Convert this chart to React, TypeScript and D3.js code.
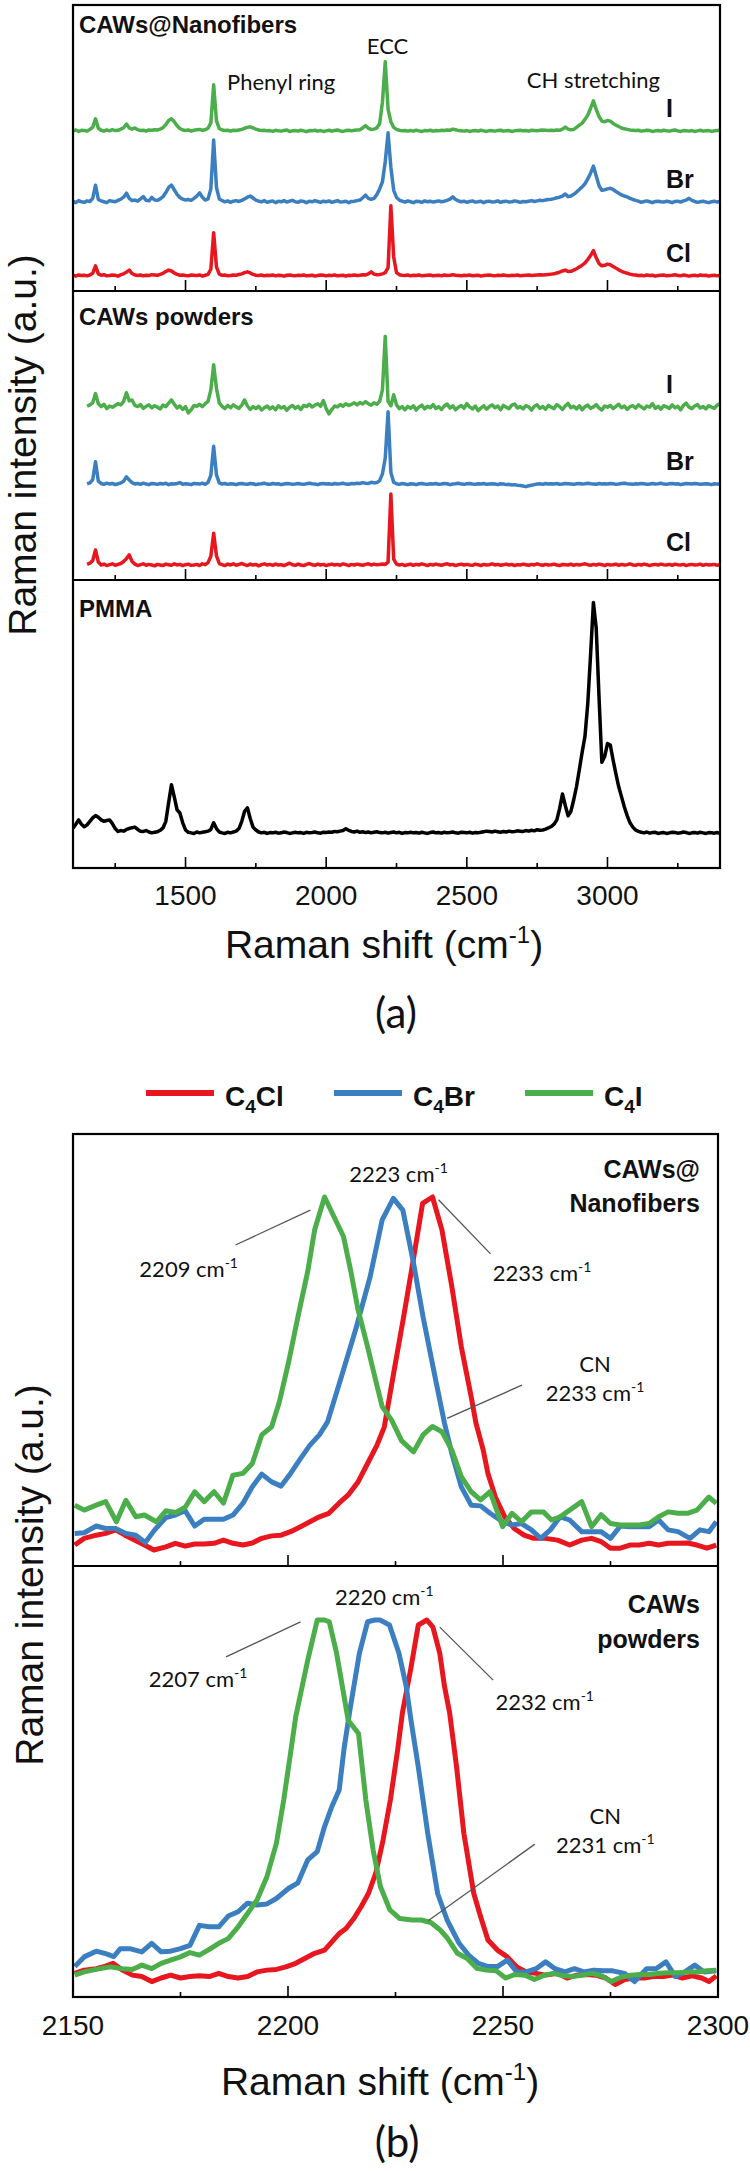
import React from "react";
import * as d3 from "d3";

const WIDTH = 750;
const HEIGHT = 2171;

// ---------- (a) survey spectra on a 10 cm-1 grid (intensity above each trace's own baseline) ----------
const SURVEY_START = 1100;
const POWDER_START = 1150;
const SURVEY_STEP = 10;

const fiberCl = [
  0.1, -0.2, 0.2, 0.0, 0.1, -0.1, 0.2, 0.8, 3.4, 0.6,
  0.1, 0.3, -0.1, 0.0, 0.2, 0.1, -0.2, 0.3, 0.6, 1.2,
  1.9, 0.7, 0.2, 0.0, 0.2, -0.1, 0.1, 0.0, 0.3, 0.2,
  0.1, 0.4, 0.8, 1.4, 1.9, 1.6, 0.9, 0.4, 0.1, 0.2,
  0.0, -0.1, 0.2, 0.1, 0.0, 0.2, -0.2, 0.1, 0.4, 2.2,
  15.0, 3.0, 0.5, 0.1, 0.2, -0.1, 0.0, 0.2, 0.1, 0.4,
  0.6, 1.0, 1.3, 0.9, 0.4, 0.1, 0.0, 0.2, -0.1, 0.1,
  0.0, 0.2, -0.1, 0.1, 0.0, -0.2, 0.1, 0.2, 0.0, -0.1,
  0.1, 0.0, 0.2, -0.1, 0.0, 0.1, -0.2, 0.0, 0.2, 0.1,
  -0.1, 0.1, 0.0, 0.2, -0.1, 0.0, 0.1, -0.2, 0.1, 0.0,
  0.2, 0.0, 0.1, 0.3, 0.2, 0.6, 1.3, 0.5, 0.3, 0.4,
  0.6, 1.0, 2.8, 24.4, 6.5, 1.0, 0.3, 0.1, 0.0, 0.2,
  -0.1, 0.1, 0.0, 0.2, -0.1, 0.0, 0.1, 0.2, -0.1, 0.0,
  0.1, -0.1, 0.2, 0.0, 0.1, 0.3, 0.1, 0.0, -0.1, 0.1,
  0.0, 0.2, -0.1, 0.0, 0.1, -0.2, 0.0, 0.1, 0.2, 0.0,
  -0.1, 0.1, 0.0, 0.2, 0.0, -0.1, 0.1, 0.0, 0.2, -0.1,
  0.0, 0.1, 0.2, 0.0, 0.1, 0.2, 0.3, 0.2, 0.3, 0.4,
  0.5, 0.6, 0.9, 1.2, 1.6, 1.9, 1.4, 1.5, 1.9, 2.4,
  3.0, 3.6, 4.4, 5.6, 7.0, 8.7, 6.2, 4.2, 3.4, 3.6,
  4.0, 3.8, 3.2, 2.6, 2.0, 1.5, 1.1, 0.8, 0.5, 0.3,
  0.2, 0.0, 0.1, -0.1, 0.2, 0.0, 0.1, -0.2, 0.0, 0.1,
  0.2, -0.1, 0.0, 0.1, 0.3, 0.0, -0.1, 0.2, 0.0, -0.2,
  0.0, 0.1, -0.1, 0.2, 0.0, 0.1, -0.2, 0.0, 0.1, -0.1,
  0.0,
];

const fiberBr = [
  0.2, -0.3, 0.4, 0.0, -0.2, 0.3, 0.1, 1.2, 5.8, 0.8,
  0.3, 0.0, -0.3, 0.4, 0.2, 0.0, 0.5, 0.9, 1.6, 3.0,
  1.2, 0.4, 0.6, 0.2, 1.0, 1.8, 0.5, 0.3, 1.5, 0.6,
  0.5, 1.0, 1.8, 3.2, 5.0, 5.8, 4.2, 2.6, 1.5, 0.9,
  0.6, 0.8, 0.5, 1.2, 2.0, 3.1, 1.6, 0.6, 1.0, 4.5,
  21.6, 5.0, 1.0, 0.4, 0.0, 0.3, -0.2, 0.2, 0.4, 0.1,
  0.5, 1.0, 1.6, 2.0, 1.3, 0.6, 0.2, 0.0, 0.4, -0.2,
  0.1, 0.3, -0.3, 0.2, 0.0, 0.4, -0.1, 0.2, 0.5, 0.0,
  -0.2, 0.3, 0.1, -0.3, 0.2, 0.0, 0.4, 0.1, -0.2, 0.2,
  0.0, 0.3, -0.2, 0.1, 0.4, -0.1, 0.0, 0.2, -0.3, 0.1,
  0.2, 0.4, 0.6, 1.4, 2.3, 1.2, 0.8, 1.2, 2.5, 4.5,
  7.0, 14.0, 24.1, 12.0, 4.0, 1.5, 0.6, 0.2, -0.1, 0.3,
  0.0, -0.3, 0.2, 0.1, -0.2, 0.3, 0.0, 0.2, -0.1, 0.1,
  0.3, 0.0, 0.2, 0.5, 0.9, 1.7, 0.8, 0.3, 0.0, 0.2,
  -0.2, 0.1, 0.3, -0.1, 0.0, 0.2, -0.3, 0.1, 0.2, -0.1,
  0.0, 0.3, -0.2, 0.1, 0.2, -0.1, 0.0, 0.3, 0.1, -0.2,
  0.1, 0.0, 0.2, 0.4, 0.1, 0.3, 0.5, 0.4, 0.6, 0.8,
  0.9, 1.1, 1.4, 1.6, 2.0, 2.7, 1.8, 2.0, 2.6, 3.4,
  4.3, 5.2, 6.3, 8.0, 10.0, 12.5, 9.0, 5.6, 4.0, 4.2,
  4.5, 4.7, 4.3, 3.6, 3.0, 2.4, 2.0, 1.7, 1.2, 0.8,
  0.5, 0.2, -0.2, 0.1, 0.3, 0.0, -0.3, 0.1, 0.2, 0.0,
  -0.1, 0.2, 0.0, -0.3, 0.1, 0.2, -0.1, 0.3, 0.6, 1.2,
  0.5, 0.1, -0.2, 0.0, 0.2, -0.1, -0.3, 0.0, 0.2, -0.1,
  0.1,
];

const fiberI = [
  0.0, 0.3, -0.2, 0.2, 0.1, -0.1, 0.5, 1.2, 4.2, 0.9,
  0.2, -0.1, 0.3, 0.0, 0.4, 0.1, 0.2, 0.6, 1.1, 2.4,
  1.0, 0.6, 1.0, 0.4, 0.1, 0.2, -0.1, 0.3, 0.2, 0.4,
  0.3, 0.6, 1.1, 2.2, 3.6, 4.2, 3.2, 1.8, 0.8, 0.3,
  0.1, 0.3, -0.1, 0.2, 0.4, 0.5, 0.2, 0.4, 0.9, 2.8,
  16.1, 3.5, 0.8, 0.3, 0.1, 0.2, -0.1, 0.2, 0.1, 0.3,
  0.5, 0.9, 1.2, 1.4, 1.0, 0.6, 0.3, 0.1, 0.2, 0.0,
  0.1, -0.2, 0.2, 0.0, -0.1, 0.1, 0.3, -0.2, 0.0, 0.1,
  -0.1, 0.2, 0.0, -0.3, 0.1, 0.0, 0.2, -0.1, 0.1, -0.2,
  0.0, 0.2, -0.1, 0.1, 0.3, 0.0, -0.2, 0.1, 0.2, 0.0,
  0.2, 0.3, 0.4, 1.0, 1.8, 0.9, 0.5, 0.6, 1.0, 2.5,
  10.0, 24.2, 7.5, 3.2, 1.2, 0.5, 0.2, 0.0, 0.1, -0.1,
  0.1, -0.1, 0.2, 0.0, -0.2, 0.1, 0.0, 0.2, -0.1, 0.1,
  0.0, 0.2, 0.1, 0.3, 0.2, 0.6, 0.4, 0.1, 0.0, -0.1,
  0.1, -0.2, 0.0, 0.1, -0.1, 0.2, 0.0, -0.2, 0.1, 0.0,
  -0.1, 0.1, 0.2, -0.1, 0.0, 0.1, -0.2, 0.0, 0.1, 0.2,
  0.0, 0.1, -0.1, 0.2, 0.1, 0.0, 0.2, 0.3, 0.2, 0.1,
  0.2, 0.1, 0.3, 0.2, 0.6, 1.3, 0.6, 0.4, 0.5, 1.2,
  2.0, 2.7, 4.0, 5.5, 7.9, 10.5, 7.5, 5.0, 3.4, 3.2,
  3.6, 3.4, 2.6, 2.0, 1.5, 1.0, 0.7, 0.5, 0.3, 0.2,
  0.1, 0.2, -0.1, 0.0, 0.2, 0.1, -0.2, 0.0, 0.1, -0.1,
  0.2, 0.0, -0.1, 0.1, 0.3, 0.0, -0.2, 0.1, 0.0, -0.1,
  0.1, -0.2, 0.0, 0.2, -0.1, 0.0, 0.1, -0.2, 0.0, 0.1,
  0.2,
];

const powderCl = [
  0.2, 0.6, 1.5, 5.2, 1.0,
  0.0, 0.3, -0.2, 0.1, 0.4, -0.1, 0.2, 0.5, 1.2, 2.2,
  3.5, 1.2, 0.3, -0.2, 0.1, 0.4, -0.1, 0.2, 0.0, -0.3,
  0.2, 0.0, -0.2, 0.3, 0.1, -0.1, 0.4, 0.0, 0.2, -0.2,
  0.1, 0.3, -0.1, 0.0, 0.2, -0.2, 0.4, 0.1, 0.8, 3.0,
  11.0, 3.2, 0.5, 0.1, -0.2, 0.3, 0.0, 0.4, -0.1, 0.2,
  0.5, 0.1, -0.2, 0.3, 0.0, 0.2, -0.3, 0.1, 0.4, 0.0,
  0.2, -0.1, 0.3, 0.0, 0.1, -0.2, 0.2, 0.6, 0.1, -0.1,
  0.3, 0.0, -0.2, 0.2, 0.5, 0.1, -0.1, 0.3, 0.0, 0.2,
  -0.2, 0.1, 0.3, 0.0, 0.2, -0.1, 0.4, 0.1, -0.2, 0.2,
  0.0, 0.3, 0.1, -0.1, 0.2, 0.4, 0.0, 0.3, 0.1, 0.2,
  0.3, 0.2, 1.0, 24.6, 2.0, 0.3, 0.0, 0.2, -0.2, 0.1,
  0.3, -0.1, 0.2, 0.0, 0.4, 0.1, -0.2, 0.2, 0.0, 0.3,
  0.1, -0.1, 0.2, 0.4, 0.0, 0.2, -0.2, 0.1, 0.3, 0.0,
  0.2, 0.0, -0.1, 0.3, 0.1, -0.2, 0.2, 0.0, 0.1, 0.4,
  0.0, 0.2, -0.1, 0.1, 0.3, 0.0, 0.2, -0.2, 0.1, 0.0,
  0.3, 0.1, -0.1, 0.2, 0.0, 0.4, 0.1, -0.1, 0.2, 0.0,
  0.1, 0.3, 0.0, -0.2, 0.2, 0.1, 0.0, 0.3, -0.1, 0.2,
  0.0, 0.2, 0.4, 0.1, -0.1, 0.2, 0.0, 0.3, 0.1, -0.2,
  0.2, 0.0, 0.1, 0.3, -0.1, 0.2, 0.0, 0.1, 0.4, 0.0,
  -0.1, 0.2, 0.0, 0.3, 0.1, -0.2, 0.1, 0.2, 0.0, 0.3,
  0.1, 0.0, 0.2, -0.1, 0.3, 0.1, 0.0, 0.2, -0.2, 0.1,
  0.2, 0.0, 0.1, 0.3, -0.1, 0.2, 0.0, 0.1, 0.2, -0.1,
  0.1,
];

const powderBr = [
  0.1, 0.4, 1.5, 7.7, 1.0,
  0.2, -0.1, 0.3, 0.0, 0.2, -0.2, 0.1, 0.4, 1.0, 2.5,
  1.4, 0.5, 0.0, 0.2, -0.1, 0.3, 0.0, -0.2, 0.2, 0.1,
  -0.1, 0.2, 0.0, 0.3, -0.2, 0.1, 0.0, 0.2, 0.5, -0.1,
  0.1, 0.0, -0.2, 0.2, 0.1, 0.0, 0.3, -0.1, 0.6, 3.0,
  13.1, 3.2, 0.4, 0.0, 0.2, -0.1, 0.1, 0.0, -0.2, 0.1,
  0.2, 0.0, -0.1, 0.2, 0.1, -0.2, 0.0, 0.1, 0.3, 0.0,
  -0.1, 0.2, 0.0, 0.1, -0.2, 0.0, 0.2, 0.1, -0.1, 0.0,
  0.2, 0.0, -0.1, 0.1, 0.3, 0.1, 0.0, -0.2, 0.1, 0.2,
  0.0, 0.1, -0.1, 0.2, 0.0, 0.1, 0.3, 0.0, -0.1, 0.2,
  0.1, 0.3, 0.2, 0.5, 0.3, 0.2, 0.6, 0.4, 0.5, 1.2,
  3.5, 9.0, 25.0, 4.0, 0.6, 0.1, -0.1, 0.2, 0.0, -0.2,
  0.1, 0.0, -0.2, 0.1, 0.2, 0.0, -0.1, 0.1, 0.0, 0.2,
  -0.1, 0.0, 0.2, 0.1, -0.2, 0.0, 0.1, 0.3, 0.0, -0.1,
  0.1, 0.2, 0.0, -0.1, 0.1, 0.0, 0.2, -0.1, 0.0, 0.1,
  0.0, -0.2, 0.1, 0.0, -0.2, -0.1, -0.3, -0.2, -0.4, -0.5,
  -0.7, -0.9, -0.6, -0.4, -0.2, 0.0, 0.1, -0.1, 0.2, 0.0,
  0.1, 0.0, 0.2, -0.1, 0.0, 0.2, 0.1, 0.0, -0.1, 0.1,
  0.2, 0.0, 0.1, 0.3, 0.1, 0.0, -0.1, 0.2, 0.0, 0.1,
  0.0, 0.2, 0.1, -0.1, 0.0, 0.2, 0.3, 0.1, 0.0, -0.1,
  0.1, 0.0, 0.2, 0.1, -0.1, 0.0, 0.2, 0.0, 0.1, 0.3,
  0.0, -0.1, 0.1, 0.2, 0.0, 0.1, -0.2, 0.0, 0.2, 0.1,
  0.0, 0.2, 0.1, -0.1, 0.0, 0.1, 0.0, -0.2, 0.1, 0.0,
  -0.1,
];

const powderI = [
  0.3, 0.8, 1.5, 4.7, 1.2,
  0.2, 1.0, -0.5, 0.4, 0.0, 0.6, 1.2, 0.8, 2.0, 5.0,
  2.2, 2.5, 0.6, 0.2, 0.9, -0.4, 0.3, 0.8, -0.2, 0.5,
  0.0, -0.6, 0.7, 0.2, 1.4, 2.5, 1.0, -0.3, 0.4, -0.8,
  0.2, -2.0, -0.9, 0.6, 0.3, 1.0, 0.2, 1.2, 2.0, 6.0,
  14.7, 6.5, 1.5, 0.3, -0.5, 0.6, -0.2, 0.8, 0.1, -0.4,
  0.7, 2.5, 0.4, -0.8, 0.2, -0.5, 0.3, -1.0, -0.2, 0.4,
  -0.6, 0.1, -0.9, 0.5, -0.3, 0.2, -1.1, 0.0, 0.6, -0.4,
  0.3, -0.8, 0.6, 0.2, 1.0, 0.1, 0.7, 1.2, 0.3, 2.3,
  -0.5, -2.3, -0.8, 0.4, 0.1, 0.9, 0.3, 1.2, 0.6, 1.0,
  1.5, 0.8, 1.6, 1.1, 1.9, 1.2, 0.7, 1.5, 1.0, 2.0,
  6.0, 24.5, 2.0, 0.5, 4.3, 0.8, -0.5, 0.2, -0.9, 0.3,
  -0.4, 0.5, -1.0, 0.1, 0.7, -0.6, 0.3, -0.2, 0.9, -0.5,
  0.2, -0.8, 0.4, 1.1, -0.3, 0.5, -0.9, 0.0, 0.6, -0.4,
  1.2, 0.1, -0.6, 0.4, -1.2, -0.3, 0.5, -0.7, 0.2, 0.8,
  -0.2, 0.4, -0.9, 0.6, 0.0, -0.5, 0.7, 1.1, -0.3, 0.2,
  -0.6, 0.5, 0.1, -1.0, 0.3, 0.8, -0.4, 0.2, -0.7, 0.6,
  0.0, -0.5, 0.9, 0.2, -0.8, 0.4, 1.3, -0.2, 0.3, -0.6,
  0.5, -0.9, 0.2, 0.7, -0.4, 0.1, 0.9, -0.3, -1.0, 0.4,
  0.0, 0.6, -0.5, 0.3, 1.0, -0.2, 0.4, -0.8, 0.2, 0.5,
  -0.3, 0.8, 0.1, -0.6, 0.4, 0.0, 1.2, -0.4, 0.3, -0.7,
  0.5, 0.1, -0.4, 0.8, -0.2, 0.3, -0.9, 0.6, 1.4, 0.0,
  -0.5, 0.4, 0.9, -0.3, 0.2, -0.6, 0.5, 0.0, -0.4, 0.7,
  1.2,
];

const pmma = [
  1.6, 3.0, 4.5, 3.0, 2.1, 2.8, 4.0, 5.2, 6.0, 5.4,
  4.5, 4.0, 4.3, 4.5, 3.2, 1.5, 0.5, 0.8, 0.6, 1.2,
  1.5, 1.8, 2.0, 1.2, 0.6, 0.5, 0.8, 0.3, 0.0, 0.2,
  0.4, 0.9, 1.7, 4.0, 10.5, 16.7, 12.5, 8.0, 6.9, 3.5,
  1.0, 0.2, 0.0, -0.2, 0.3, 0.0, 0.2, 0.4, 0.6, 1.2,
  3.5, 1.5, 0.3, 0.0, -0.2, 0.2, 0.0, 0.3, 0.6, 1.5,
  4.0, 7.5, 8.7, 5.0, 2.0, 1.0, 0.3, 0.0, 0.2, -0.2,
  0.1, 0.0, 0.2, -0.1, 0.0, 0.3, 0.1, -0.2, 0.0, 0.2,
  0.0, 0.1, -0.2, 0.2, 0.0, 0.1, 0.3, 0.0, -0.1, 0.2,
  0.1, 0.3, 0.2, 0.5, 0.4, 0.6, 0.8, 1.4, 0.9, 0.5,
  0.3, 0.6, 0.2, 0.4, 0.1, 0.3, 0.0, 0.2, 0.4, 0.1,
  0.0, 0.2, -0.1, 0.1, 0.3, 0.0, 0.2, -0.2, 0.1, 0.0,
  0.2, 0.0, 0.1, -0.1, 0.2, 0.0, -0.2, 0.1, 0.3, 0.0,
  0.1, -0.1, 0.2, 0.0, 0.1, 0.3, 0.0, -0.1, 0.2, 0.1,
  0.0, 0.2, -0.1, 0.1, 0.0, 0.2, 0.4, 0.6, 0.5, 0.3,
  0.6, 0.4, 0.2, 0.5, 0.3, 0.6, 0.4, 0.5, 0.7, 0.6,
  0.5, 0.8, 0.6, 0.9, 0.7, 1.1, 0.9, 1.0, 1.3, 1.7,
  2.2, 3.0, 4.5, 8.5, 13.5, 9.5, 5.9, 7.5, 11.5, 16.1,
  22.0, 28.0, 33.5, 45.0, 62.0, 80.0, 71.0, 47.0, 24.5, 26.5,
  31.0, 30.5, 25.3, 20.5, 16.0, 12.5, 9.0, 6.0, 3.5, 2.0,
  1.0, 0.5, 0.2, 0.0, 0.3, -0.1, 0.1, 0.2, -0.2, 0.0,
  0.1, -0.2, 0.0, 0.2, 0.1, -0.1, 0.0, 0.3, 0.1, -0.2,
  0.0, 0.1, -0.1, 0.2, 0.0, -0.2, 0.1, 0.0, -0.1, 0.1,
  -0.2,
];

// vertical stacking of the Cl / Br / I traces (same units as the intensities)
const halides = ["Cl", "Br", "I"];
const fiberOffsets = [5.4, 31.2, 56.0];
const powderOffsets = [5.2, 33.2, 59.8];
const pmmaOffset = 12.2;

const surveyMajorTicks = [1500, 2000, 2500, 3000];
const surveyMinorTicks = [1250, 1750, 2250, 2750, 3250];

// ---------- (b) C≡N region, normalised intensity ----------
const fiberClZoom: [number, number][] = [
  [2150.4, 0.014], [2152.6, 0.033], [2155.4, 0.042], [2157.6, 0.047], [2159.9, 0.057], [2162.1, 0.042],
  [2164.3, 0.028], [2166.6, 0.014], [2168.8, 0.0], [2171.6, 0.009], [2173.8, 0.019], [2176.1, 0.011],
  [2178.3, 0.017], [2180.5, 0.017], [2182.8, 0.019], [2185.0, 0.028], [2187.2, 0.019], [2189.5, 0.014],
  [2191.7, 0.02], [2193.9, 0.033], [2196.2, 0.04], [2198.4, 0.042], [2200.6, 0.052], [2202.9, 0.066],
  [2205.1, 0.08], [2207.3, 0.094], [2209.5, 0.104], [2211.8, 0.132], [2214.0, 0.156], [2216.3, 0.193],
  [2218.5, 0.245], [2220.7, 0.297], [2222.4, 0.349], [2224.7, 0.51], [2226.9, 0.661], [2229.0, 0.812],
  [2231.3, 0.982], [2233.6, 1.0], [2235.8, 0.907], [2238.1, 0.746], [2240.3, 0.576], [2242.6, 0.434],
  [2243.7, 0.36], [2245.4, 0.283], [2246.5, 0.217], [2248.2, 0.151], [2250.4, 0.094], [2252.6, 0.061],
  [2254.9, 0.042], [2257.1, 0.033], [2259.9, 0.033], [2262.7, 0.028], [2265.5, 0.014], [2268.3, 0.028],
  [2270.6, 0.033], [2272.8, 0.024], [2275.0, 0.005], [2277.3, 0.005], [2279.5, 0.014], [2281.7, 0.014],
  [2284.0, 0.019], [2286.2, 0.014], [2288.4, 0.019], [2290.7, 0.019], [2292.9, 0.02], [2295.1, 0.014],
  [2297.4, 0.005], [2299.6, 0.014],
];

const fiberBrZoom: [number, number][] = [
  [2150.4, 0.047], [2152.6, 0.049], [2155.4, 0.068], [2157.6, 0.061], [2159.9, 0.061], [2162.3, 0.047],
  [2164.6, 0.042], [2166.8, 0.021], [2169.0, 0.057], [2171.6, 0.092], [2173.8, 0.099], [2176.1, 0.111],
  [2178.3, 0.068], [2180.5, 0.087], [2182.8, 0.087], [2185.0, 0.087], [2187.2, 0.099], [2189.5, 0.132],
  [2191.7, 0.179], [2193.9, 0.215], [2196.2, 0.193], [2198.4, 0.181], [2200.6, 0.217], [2202.9, 0.259],
  [2205.1, 0.297], [2207.3, 0.326], [2209.2, 0.363], [2212.4, 0.49], [2215.7, 0.623], [2219.1, 0.774],
  [2221.9, 0.935], [2224.5, 0.996], [2226.7, 0.963], [2229.2, 0.812], [2231.4, 0.661], [2234.2, 0.49],
  [2236.4, 0.359], [2238.1, 0.273], [2240.3, 0.179], [2242.6, 0.127], [2244.8, 0.125], [2247.0, 0.104],
  [2249.9, 0.08], [2252.1, 0.071], [2254.3, 0.075], [2256.6, 0.057], [2258.8, 0.033], [2261.0, 0.057],
  [2263.3, 0.094], [2265.5, 0.085], [2268.3, 0.052], [2270.6, 0.052], [2272.8, 0.052], [2275.0, 0.033],
  [2277.3, 0.068], [2279.5, 0.066], [2281.7, 0.066], [2284.0, 0.066], [2286.2, 0.085], [2288.4, 0.057],
  [2290.7, 0.052], [2293.5, 0.033], [2295.8, 0.057], [2297.9, 0.052], [2299.6, 0.08],
];

const fiberIZoom: [number, number][] = [
  [2150.4, 0.127], [2152.6, 0.113], [2155.4, 0.127], [2157.6, 0.137], [2160.1, 0.08], [2162.3, 0.141],
  [2164.6, 0.094], [2166.6, 0.099], [2169.4, 0.08], [2171.6, 0.111], [2173.8, 0.106], [2176.1, 0.121],
  [2178.3, 0.165], [2180.5, 0.137], [2182.8, 0.165], [2185.0, 0.133], [2187.2, 0.212], [2189.5, 0.217],
  [2191.7, 0.245], [2193.9, 0.326], [2196.2, 0.349], [2198.0, 0.42], [2200.1, 0.53], [2202.3, 0.66],
  [2204.6, 0.79], [2206.2, 0.907], [2208.5, 1.0], [2212.9, 0.888], [2214.6, 0.79], [2216.3, 0.68],
  [2218.5, 0.576], [2220.2, 0.49], [2221.9, 0.406], [2224.1, 0.368], [2226.4, 0.31], [2229.2, 0.278],
  [2231.4, 0.326], [2233.6, 0.35], [2235.8, 0.335], [2238.1, 0.283], [2240.3, 0.208], [2242.6, 0.165],
  [2244.8, 0.142], [2247.0, 0.165], [2249.9, 0.066], [2252.1, 0.104], [2254.3, 0.08], [2256.6, 0.108],
  [2259.4, 0.108], [2261.3, 0.085], [2263.3, 0.094], [2265.5, 0.113], [2268.3, 0.137], [2270.6, 0.066],
  [2272.8, 0.1], [2275.0, 0.075], [2277.3, 0.071], [2279.5, 0.071], [2281.7, 0.071], [2284.0, 0.075],
  [2286.2, 0.094], [2288.4, 0.108], [2290.7, 0.104], [2292.9, 0.104], [2295.1, 0.113], [2297.9, 0.15],
  [2299.6, 0.132],
];

const powderClZoom: [number, number][] = [
  [2150.4, 0.013], [2152.6, 0.022], [2155.4, 0.026], [2157.6, 0.033], [2159.3, 0.041], [2161.5, 0.022],
  [2163.8, 0.008], [2166.0, 0.004], [2168.3, -0.01], [2170.5, 0.0], [2172.7, 0.008], [2175.0, 0.0],
  [2177.2, 0.004], [2179.4, 0.006], [2181.7, 0.004], [2183.9, 0.013], [2186.1, 0.004], [2188.4, 0.0],
  [2190.6, 0.004], [2192.8, 0.017], [2195.1, 0.022], [2197.3, 0.024], [2199.5, 0.031], [2201.8, 0.041],
  [2204.0, 0.055], [2206.2, 0.069], [2208.5, 0.078], [2210.2, 0.101], [2211.9, 0.124], [2213.5, 0.138],
  [2215.3, 0.166], [2217.0, 0.199], [2218.7, 0.236], [2220.4, 0.292], [2222.1, 0.385], [2223.8, 0.497],
  [2225.5, 0.637], [2226.6, 0.74], [2228.6, 0.867], [2230.3, 0.986], [2232.3, 1.0], [2233.7, 0.98],
  [2235.3, 0.907], [2236.4, 0.814], [2237.6, 0.74], [2239.2, 0.59], [2240.9, 0.404], [2243.2, 0.236],
  [2244.8, 0.171], [2246.5, 0.106], [2248.7, 0.078], [2251.0, 0.059], [2253.2, 0.031], [2255.4, 0.017],
  [2257.7, 0.013], [2259.9, 0.008], [2262.7, 0.013], [2264.9, 0.0], [2267.2, 0.008], [2269.4, 0.01],
  [2271.6, 0.008], [2273.9, 0.0], [2276.1, -0.018], [2278.3, -0.004], [2280.6, 0.0], [2282.8, 0.0],
  [2285.0, 0.004], [2287.3, 0.004], [2289.5, 0.008], [2291.7, 0.0], [2294.0, 0.006], [2296.2, 0.0],
  [2297.9, -0.01], [2299.6, 0.006],
];

const powderBrZoom: [number, number][] = [
  [2150.4, 0.032], [2152.6, 0.059], [2155.4, 0.075], [2157.6, 0.068], [2159.5, 0.06], [2161.0, 0.082],
  [2163.2, 0.082], [2166.0, 0.073], [2168.3, 0.097], [2170.5, 0.073], [2172.7, 0.075], [2175.0, 0.082],
  [2177.2, 0.091], [2179.4, 0.147], [2181.7, 0.143], [2183.9, 0.143], [2186.1, 0.173], [2188.4, 0.185],
  [2190.6, 0.209], [2192.8, 0.204], [2195.1, 0.207], [2197.3, 0.222], [2200.1, 0.25], [2202.3, 0.266],
  [2204.6, 0.33], [2206.8, 0.353], [2208.5, 0.423], [2210.2, 0.479], [2211.9, 0.525], [2213.0, 0.637],
  [2214.4, 0.749], [2216.6, 0.907], [2218.5, 0.995], [2220.2, 1.0], [2221.4, 1.0], [2223.6, 0.986],
  [2225.8, 0.907], [2227.5, 0.814], [2228.6, 0.72], [2230.3, 0.59], [2232.5, 0.404], [2234.8, 0.236],
  [2237.0, 0.162], [2239.8, 0.097], [2242.0, 0.064], [2244.3, 0.041], [2246.5, 0.032], [2248.7, 0.032],
  [2251.0, 0.05], [2253.2, 0.017], [2255.4, 0.017], [2257.7, 0.026], [2259.9, 0.045], [2262.1, 0.026],
  [2264.4, 0.017], [2266.6, 0.026], [2268.8, 0.017], [2271.1, 0.022], [2273.3, 0.02], [2275.5, 0.02],
  [2278.3, 0.013], [2280.6, -0.01], [2283.4, 0.026], [2285.6, 0.026], [2287.9, 0.045], [2290.1, 0.004],
  [2292.3, 0.017], [2294.6, 0.036], [2296.8, 0.017], [2299.6, 0.02],
];

const powderIZoom: [number, number][] = [
  [2150.4, 0.008], [2152.6, 0.017], [2155.4, 0.024], [2158.7, 0.031], [2161.5, 0.026], [2163.8, 0.024],
  [2166.0, 0.036], [2168.3, 0.026], [2170.5, 0.041], [2172.7, 0.05], [2175.0, 0.059], [2177.2, 0.071],
  [2179.4, 0.064], [2181.7, 0.08], [2183.9, 0.097], [2186.1, 0.11], [2188.4, 0.143], [2190.6, 0.18],
  [2192.8, 0.218], [2195.1, 0.283], [2197.3, 0.376], [2199.0, 0.497], [2200.7, 0.637], [2201.8, 0.73],
  [2204.6, 0.888], [2206.8, 1.0], [2208.5, 1.0], [2209.6, 0.995], [2211.3, 0.907], [2214.0, 0.72],
  [2216.4, 0.683], [2218.1, 0.497], [2219.8, 0.357], [2221.5, 0.255], [2223.7, 0.19], [2226.0, 0.166],
  [2228.8, 0.162], [2231.0, 0.162], [2233.2, 0.155], [2235.4, 0.134], [2237.1, 0.111], [2239.4, 0.069],
  [2241.6, 0.055], [2243.9, 0.027], [2246.1, 0.022], [2248.4, 0.02], [2250.6, 0.0], [2252.8, 0.01],
  [2255.1, 0.008], [2257.3, -0.004], [2259.6, 0.008], [2261.8, 0.013], [2264.0, 0.006], [2266.3, 0.004],
  [2268.5, 0.008], [2270.7, 0.013], [2273.0, 0.006], [2275.2, -0.01], [2277.4, 0.002], [2279.7, 0.008],
  [2281.9, 0.01], [2284.1, 0.01], [2286.4, 0.013], [2288.6, 0.015], [2290.8, 0.015], [2293.1, 0.017],
  [2295.3, 0.017], [2297.5, 0.02], [2299.6, 0.022],
];

const zoomMajorTicks = [2150, 2200, 2250, 2300];
const zoomMinorTicks = [2175, 2225, 2275];

// peak call-outs: [shift, intensity] of the text, and the leader line ends
type Callout = { main: string; head?: string; at: [number, number]; from?: [number, number]; to?: [number, number] };
const fiberCallouts: Callout[] = [
  { main: "2223 cm", at: [2225.7, 1.043] },
  { main: "2209 cm", at: [2176.9, 0.774], from: [2187.8, 0.864], to: [2205.2, 0.963] },
  { main: "2233 cm", at: [2259.1, 0.763], from: [2235.0, 0.992], to: [2247.1, 0.839] },
  { main: "2233 cm", head: "CN", at: [2271.4, 0.423], from: [2254.4, 0.467], to: [2237.0, 0.373] },
];
const powderCallouts: Callout[] = [
  { main: "2220 cm", at: [2222.4, 1.042] },
  { main: "2207 cm", at: [2179.1, 0.814], from: [2185.6, 0.897], to: [2202.9, 0.995] },
  { main: "2232 cm", at: [2259.7, 0.749], from: [2235.3, 0.98], to: [2247.7, 0.832] },
  { main: "2231 cm", head: "CN", at: [2273.8, 0.349], from: [2257.4, 0.374], to: [2232.6, 0.16] },
];

const COLORS = ["#e8161e", "#3b7fc1", "#4cae4a"];
const ARIAL = "'Liberation Sans', Arial, Helvetica, sans-serif";
const CALIBRI = "Lato, 'Open Sans', sans-serif";

// ---------- layout ----------
const A_LEFT = 73;
const A_RIGHT = 720;
const A_ROWS = [5, 291, 580, 868];
const B_LEFT = 73;
const B_RIGHT = 718;
const B_ROWS = [1134, 1566, 1997];

const xA = d3.scaleLinear().domain([1100, 3400]).range([A_LEFT, A_RIGHT]);
const yRowA = (k: number) => d3.scaleLinear().domain([0, 100]).range([A_ROWS[k + 1], A_ROWS[k]]);

const xB = d3.scaleLinear().domain([2150, 2300]).range([B_LEFT, B_RIGHT]);
const yB = [
  d3.scaleLinear().domain([0, 1]).range([1550, 1197]),
  d3.scaleLinear().domain([0, 1]).range([1978, 1620]),
];

function gridSeries(values: number[], start: number, offset: number): [number, number][] {
  return values.map((v, i) => [start + i * SURVEY_STEP, v + offset]);
}

function Ticks({ x, bottom, majors, minors }: { x: d3.ScaleLinear<number, number>; bottom: number; majors: number[]; minors: number[] }) {
  return (
    <g stroke="#000" strokeWidth={1.6}>
      {majors.map((t) => (
        <line key={"M" + t} x1={x(t)} x2={x(t)} y1={bottom} y2={bottom - 11} />
      ))}
      {minors.map((t) => (
        <line key={"m" + t} x1={x(t)} x2={x(t)} y1={bottom} y2={bottom - 5} />
      ))}
    </g>
  );
}

function AxisTitle({ x, y, rotate }: { x: number; y: number; rotate?: boolean }) {
  return (
    <text
      x={0}
      y={0}
      transform={`translate(${x},${y})${rotate ? " rotate(-90)" : ""}`}
      textAnchor="middle"
      fontFamily={ARIAL}
      fontSize={39}
      fill="#111"
    >
      {rotate ? "Raman intensity (a.u.)" : (
        <>
          Raman shift (cm<tspan dy={-15} fontSize={24}>-1</tspan>
          <tspan dy={15}>)</tspan>
        </>
      )}
    </text>
  );
}

function SurveyPanel() {
  const fibers = [fiberCl, fiberBr, fiberI];
  const powders = [powderCl, powderBr, powderI];
  const rows = [0, 1, 2].map(yRowA);
  const lineFor = (y: d3.ScaleLinear<number, number>) =>
    d3.line<[number, number]>().x((d) => xA(d[0])).y((d) => y(d[1]));

  return (
    <g>
      <defs>
        <clipPath id="clipA">
          <rect x={A_LEFT} y={A_ROWS[0]} width={A_RIGHT - A_LEFT} height={A_ROWS[3] - A_ROWS[0]} />
        </clipPath>
      </defs>
      <g clipPath="url(#clipA)" fill="none" strokeWidth={3.5} strokeLinejoin="round">
        {fibers.map((vals, k) => (
          <path key={"f" + k} d={lineFor(rows[0])(gridSeries(vals, SURVEY_START, fiberOffsets[k])) ?? ""} stroke={COLORS[k]} />
        ))}
        {powders.map((vals, k) => (
          <path key={"p" + k} d={lineFor(rows[1])(gridSeries(vals, POWDER_START, powderOffsets[k])) ?? ""} stroke={COLORS[k]} />
        ))}
        <path d={lineFor(rows[2])(gridSeries(pmma, SURVEY_START, pmmaOffset)) ?? ""} stroke="#000" />
      </g>

      {/* frame and row separators */}
      <rect x={A_LEFT} y={A_ROWS[0]} width={A_RIGHT - A_LEFT} height={A_ROWS[3] - A_ROWS[0]} fill="none" stroke="#000" strokeWidth={2.2} />
      <line x1={A_LEFT} x2={A_RIGHT} y1={A_ROWS[1]} y2={A_ROWS[1]} stroke="#000" strokeWidth={2.2} />
      <line x1={A_LEFT} x2={A_RIGHT} y1={A_ROWS[2]} y2={A_ROWS[2]} stroke="#000" strokeWidth={2.2} />
      {[1, 2, 3].map((r) => (
        <Ticks key={r} x={xA} bottom={A_ROWS[r]} majors={surveyMajorTicks} minors={surveyMinorTicks} />
      ))}
      {surveyMajorTicks.map((t) => (
        <text key={t} x={xA(t)} y={905} textAnchor="middle" fontFamily={ARIAL} fontSize={28} fill="#111">
          {t}
        </text>
      ))}

      {/* row titles */}
      <g fontFamily={ARIAL} fontWeight="bold" fill="#111">
        <text x={79} y={33} fontSize={24}>CAWs@Nanofibers</text>
        <text x={79} y={325} fontSize={24}>CAWs powders</text>
        <text x={79} y={617} fontSize={24}>PMMA</text>
        {halides.map((h, k) => (
          <text key={"fl" + h} x={666} y={rows[0](fiberOffsets[k]) - 14} fontSize={25}>{h}</text>
        ))}
        {halides.map((h, k) => (
          <text key={"pl" + h} x={666} y={rows[1](powderOffsets[k]) - 14} fontSize={25}>{h}</text>
        ))}
      </g>

      {/* band assignments */}
      <g fontFamily={CALIBRI} fontSize={22} fill="#111">
        <text x={xA(1840)} y={90} textAnchor="middle">Phenyl ring</text>
        <text x={xA(2218)} y={54} textAnchor="middle">ECC</text>
        <text x={xA(2950)} y={88} textAnchor="middle">CH stretching</text>
      </g>

      <AxisTitle x={384} y={958} />
      <AxisTitle x={36} y={445} rotate />
      <text x={396} y={1028} textAnchor="middle" fontFamily={CALIBRI} fontSize={42} fill="#111">(a)</text>
    </g>
  );
}

function CalloutMarks({ items, y }: { items: Callout[]; y: d3.ScaleLinear<number, number> }) {
  return (
    <g fontFamily={CALIBRI} fontSize={22} fill="#111">
      {items.map((c, i) => (
        <g key={i}>
          {c.from && c.to && (
            <line x1={xB(c.from[0])} y1={y(c.from[1])} x2={xB(c.to[0])} y2={y(c.to[1])} stroke="#555" strokeWidth={1.3} />
          )}
          {c.head && (
            <text x={xB(c.at[0])} y={y(c.at[1]) - 29} textAnchor="middle">{c.head}</text>
          )}
          <text x={xB(c.at[0])} y={y(c.at[1])} textAnchor="middle">
            {c.main}
            <tspan dy={-9} fontSize={14}>-1</tspan>
          </text>
        </g>
      ))}
    </g>
  );
}

function ZoomPanel() {
  const groups = [
    { series: [fiberClZoom, fiberBrZoom, fiberIZoom], callouts: fiberCallouts, title: ["CAWs@", "Nanofibers"], titleY: [1178, 1212] },
    { series: [powderClZoom, powderBrZoom, powderIZoom], callouts: powderCallouts, title: ["CAWs", "powders"], titleY: [1613, 1648] },
  ];
  return (
    <g>
      <defs>
        {groups.map((_, g) => (
          <clipPath key={g} id={`clipB${g}`}>
            <rect x={B_LEFT} y={B_ROWS[g]} width={B_RIGHT - B_LEFT} height={B_ROWS[g + 1] - B_ROWS[g]} />
          </clipPath>
        ))}
      </defs>
      {groups.map((grp, g) => {
        const line = d3.line<[number, number]>().x((d) => xB(d[0])).y((d) => yB[g](d[1]));
        return (
          <g key={g}>
            <g clipPath={`url(#clipB${g})`} fill="none" strokeWidth={5} strokeLinejoin="round">
              {grp.series.map((s, k) => (
                <path key={k} d={line(s) ?? ""} stroke={COLORS[k]} />
              ))}
            </g>
            <CalloutMarks items={grp.callouts} y={yB[g]} />
            <g fontFamily={ARIAL} fontWeight="bold" fontSize={25} fill="#111" textAnchor="end">
              <text x={700} y={grp.titleY[0]}>{grp.title[0]}</text>
              <text x={700} y={grp.titleY[1]}>{grp.title[1]}</text>
            </g>
            <Ticks x={xB} bottom={B_ROWS[g + 1]} majors={zoomMajorTicks.slice(1, -1)} minors={zoomMinorTicks} />
          </g>
        );
      })}
      <rect x={B_LEFT} y={B_ROWS[0]} width={B_RIGHT - B_LEFT} height={B_ROWS[2] - B_ROWS[0]} fill="none" stroke="#000" strokeWidth={2.2} />
      <line x1={B_LEFT} x2={B_RIGHT} y1={B_ROWS[1]} y2={B_ROWS[1]} stroke="#000" strokeWidth={2.2} />
      {zoomMajorTicks.map((t) => (
        <text key={t} x={xB(t)} y={2035} textAnchor="middle" fontFamily={ARIAL} fontSize={28} fill="#111">
          {t}
        </text>
      ))}
      <AxisTitle x={380} y={2095} />
      <AxisTitle x={43} y={1575} rotate />
      <text x={397} y={2157} textAnchor="middle" fontFamily={CALIBRI} fontSize={42} fill="#111">(b)</text>
    </g>
  );
}

function Legend() {
  const names = [["C", "4", "Cl"], ["C", "4", "Br"], ["C", "4", "I"]];
  const starts = [146, 334, 525];
  return (
    <g fontFamily={ARIAL} fontWeight="bold" fontSize={28} fill="#111">
      {names.map((n, k) => (
        <g key={k}>
          <line x1={starts[k]} x2={starts[k] + 68} y1={1093} y2={1093} stroke={COLORS[k]} strokeWidth={6} />
          <text x={starts[k] + 79} y={1106}>
            {n[0]}
            <tspan dy={7} fontSize={19}>{n[1]}</tspan>
            <tspan dy={-7}>{n[2]}</tspan>
          </text>
        </g>
      ))}
    </g>
  );
}

export default function App() {
  return (
    <svg
      width={WIDTH}
      height={HEIGHT}
      viewBox={`0 0 ${WIDTH} ${HEIGHT}`}
      style={{ position: "absolute", left: 0, top: 0, background: "#fff" }}
    >
      <rect width={WIDTH} height={HEIGHT} fill="#fff" />
      <SurveyPanel />
      <Legend />
      <ZoomPanel />
    </svg>
  );
}
